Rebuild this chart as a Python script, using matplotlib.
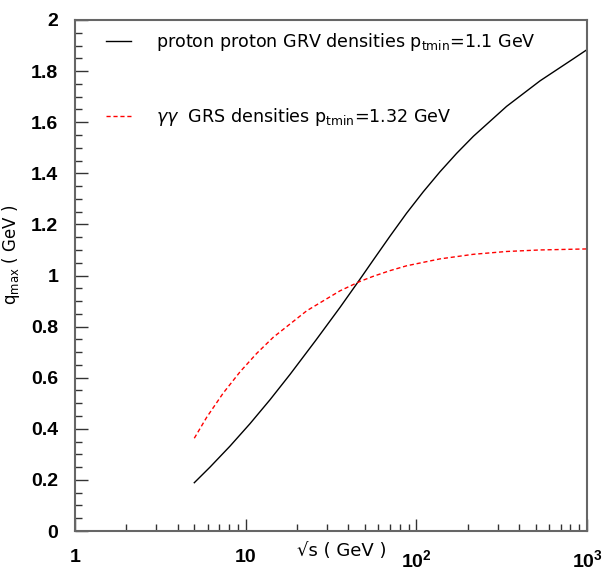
import numpy as np
import matplotlib.pyplot as plt
from matplotlib.ticker import FixedLocator, NullFormatter

plt.rcParams['font.family'] = ['Liberation Sans', 'DejaVu Sans']
plt.rcParams['mathtext.fontset'] = 'custom'
plt.rcParams['mathtext.rm'] = 'DejaVu Sans'
plt.rcParams['mathtext.it'] = 'DejaVu Sans:italic'
plt.rcParams['mathtext.bf'] = 'Liberation Sans:bold'

# sqrt(s) in GeV, q_max in GeV
sqrt_s_pp = [5.0, 6.18, 8.09, 10.6, 13.9, 18.2, 25.8, 35.7, 46.8, 56.0, 70.1, 87.7,
             109.9, 137.6, 172.2, 216, 338, 531, 831, 1000]
qmax_pp = [0.189, 0.250, 0.332, 0.420, 0.514, 0.613, 0.747, 0.875, 0.986, 1.061, 1.154, 1.244,
           1.328, 1.406, 1.478, 1.545, 1.662, 1.762, 1.848, 1.884]

sqrt_s_gg = [5.0, 5.91, 7.39, 9.27, 11.6, 14.5, 22.8, 35.7, 46.8, 56.0, 70.1, 87.7,
             137.6, 216, 338, 531, 1000]
qmax_gg = [0.363, 0.445, 0.540, 0.623, 0.695, 0.758, 0.862, 0.940, 0.977, 0.997, 1.019, 1.038,
           1.065, 1.083, 1.094, 1.100, 1.104]

label_pp = r"proton proton GRV densities p$_{\rm tmin}$=1.1 GeV"
label_gg = r"$\gamma\gamma$  GRS densities p$_{\rm tmin}$=1.32 GeV"

fig = plt.figure(figsize=(6.08, 5.68), dpi=100)
ax = fig.add_axes([75/608, 37/568, 512/608, 511/568])

ax.plot(sqrt_s_pp, qmax_pp, color='black', lw=1.0, label=label_pp)
ax.plot(sqrt_s_gg, qmax_gg, color='red', lw=1.0, ls=(0, (3, 2)), label=label_gg)

ax.set_xscale('log')
ax.set_xlim(1, 1000)
ax.set_ylim(0, 2)

# ticks
ax.xaxis.set_major_locator(FixedLocator([1, 10, 100, 1000]))
ax.set_xticklabels(['1', '10', r'$\mathbf{10^{2}}$', r'$\mathbf{10^{3}}$'])
minors = [m * d for d in [1, 10, 100] for m in range(2, 10)]
ax.xaxis.set_minor_locator(FixedLocator(minors))
ax.xaxis.set_minor_formatter(NullFormatter())
ax.set_yticks(np.arange(0, 2.01, 0.2))
ax.set_yticklabels(['0', '0.2', '0.4', '0.6', '0.8', '1', '1.2', '1.4', '1.6', '1.8', '2'])
ax.set_yticks(np.arange(0, 2.01, 0.05), minor=True)

ax.tick_params(which='both', direction='in', top=False, right=False, width=1, color='#333333')
ax.tick_params(which='major', length=9)
ax.tick_params(which='minor', length=5)
ax.tick_params(axis='y', which='major', pad=12, labelsize=14)
ax.tick_params(axis='x', which='major', pad=13, labelsize=14)
for lab in ax.get_xticklabels() + ax.get_yticklabels():
    lab.set_fontweight('bold')

for sp in ax.spines.values():
    sp.set_color('#666666')
    sp.set_linewidth(1.5)

fig.text(297/608, 1 - 551/568, "\u221as ( GeV )", fontsize=13, ha='left', va='center',
         family='DejaVu Sans')
fig.text(11/608, 1 - 255/568, r"q$_{\rm max}$ ( GeV )", fontsize=12, rotation=90,
         ha='center', va='center', family='DejaVu Sans')

leg = ax.legend(loc='upper left', bbox_to_anchor=(31/512, 1 - 11/511), frameon=False,
                borderaxespad=0, borderpad=0, handlelength=1.4,
                handletextpad=1.45, labelspacing=3.05, prop={'family': 'DejaVu Sans', 'size': 12.6})

fig.savefig('out.png', dpi=100)
